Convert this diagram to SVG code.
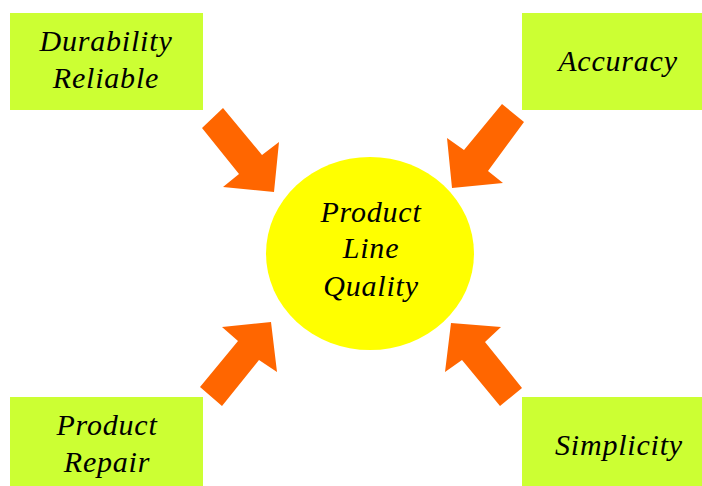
<svg xmlns="http://www.w3.org/2000/svg" width="702" height="486" viewBox="0 0 702 486">
<style>
.box{fill:#CCFF33}
.arr{fill:#FF6600}
.t{font-family:"Liberation Serif","Times New Roman",serif;font-style:italic;font-size:30px;letter-spacing:0.8px;fill:#000;text-anchor:middle}
</style>
<rect width="702" height="486" fill="#fff"/>
<g id="connectors">
<polygon class="arr" points="202,128 223,108 262,155 279,142 274,192 223,187 239,174"/>
<polygon class="arr" points="524,122 502,104 464,150 447,138 452,188 503,183 488,171"/>
<polygon class="arr" points="200,387 222,406 259,360 277,372 271,322 222,327 238,341"/>
<polygon class="arr" points="522,388 500,406 462,360 445,372 451,323 501,327 485,342"/>
</g>
<g id="center">
<ellipse cx="370" cy="253.5" rx="104" ry="96.5" fill="#FFFF00"/>
<text class="t" x="371" y="222">Product</text>
<text class="t" x="371" y="258">Line</text>
<text class="t" x="371" y="296">Quality</text>
</g>
<g id="durability">
<rect class="box" x="10" y="13" width="193" height="97"/>
<text class="t" x="106" y="51">Durability</text>
<text class="t" x="106" y="88">Reliable</text>
</g>
<g id="accuracy">
<rect class="box" x="522" y="13" width="180" height="97"/>
<text class="t" x="618" y="71">Accuracy</text>
</g>
<g id="repair">
<rect class="box" x="10" y="397" width="193" height="89"/>
<text class="t" x="107" y="435">Product</text>
<text class="t" x="107" y="472">Repair</text>
</g>
<g id="simplicity">
<rect class="box" x="522" y="397" width="180" height="89"/>
<text class="t" x="619" y="455">Simplicity</text>
</g>
</svg>
